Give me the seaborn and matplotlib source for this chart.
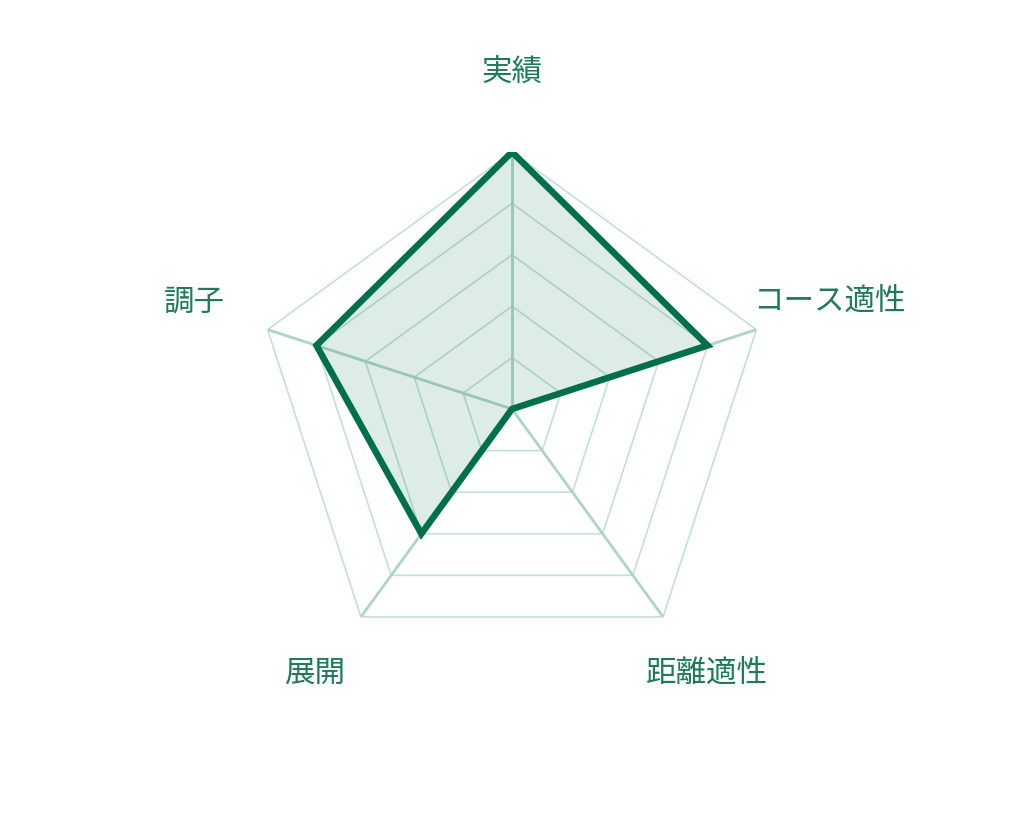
import numpy as np
import matplotlib
matplotlib.use("Agg")
import matplotlib.pyplot as plt
import seaborn as sns

# data
labels = ["実績", "コース適性", "距離適性", "展開", "調子"]
values = [5, 4, 0, 3, 4]
levels = [1, 2, 3, 4, 5]

# label offset from the outer vertex, in pixels
label_offsets = [(0, 81), (73, 29), (44, -55), (-46, -55), (-73, 28)]

sns.set_theme(style="white")
plt.rcParams["font.family"] = ["Noto Sans CJK JP", "DejaVu Sans"]

line_color = "#00704a"
grid_color = "#c3e1d5"
spoke_color = "#aed4c5"
text_color = "#1d7b58"

n = len(labels)
angles = np.linspace(0, 2 * np.pi, n, endpoint=False)
closed = np.append(angles, angles[0])
vals = np.append(values, values[0])

fig = plt.figure(figsize=(10.24, 8.2), dpi=100)
w = 2 * 257 / 1024
h = 2 * 257 / 820
ax = fig.add_axes([0.5 - w / 2, 0.5 - h / 2, w, h], polar=True)
ax.set_theta_offset(np.pi / 2)
ax.set_theta_direction(-1)
ax.grid(False)
ax.spines["polar"].set_visible(False)
ax.set_xticks([])
ax.set_yticks([])
ax.patch.set_alpha(0)

# pentagon grid
for lv in levels:
    ax.plot(closed, [lv] * len(closed), color=grid_color, lw=1.2, zorder=1)
for a in angles:
    ax.plot([a, a], [0, levels[-1]], color=spoke_color, lw=2.0, zorder=1)

# data
ax.fill(closed, vals, color=line_color, alpha=0.13, lw=0, zorder=2)
ax.plot(closed, vals, color=line_color, lw=4.7, solid_joinstyle="miter", zorder=3)
ax.set_ylim(0, levels[-1])

for a, lab, off in zip(angles, labels, label_offsets):
    ax.annotate(lab, xy=(a, levels[-1]), xytext=off, textcoords="offset pixels",
                ha="center", va="center", fontsize=22, color=text_color,
                annotation_clip=False)

fig.savefig("out.png", dpi=100)
